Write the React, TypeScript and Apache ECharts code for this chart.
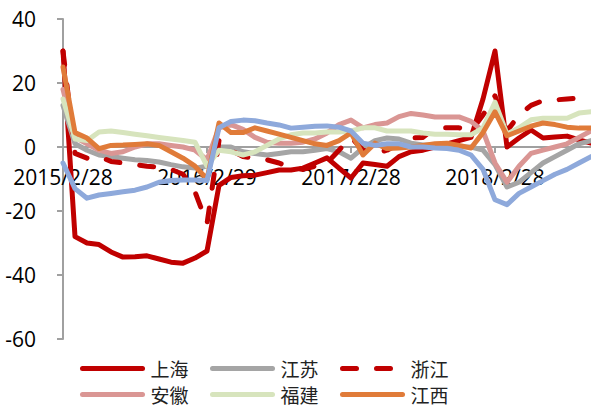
import React, { useEffect, useRef } from "react";
import * as echarts from "echarts";

const categories = [
  "2015/2/28", "2015/3/31", "2015/4/30", "2015/5/31", "2015/6/30", "2015/7/31", "2015/8/31", "2015/9/30",
  "2015/10/31", "2015/11/30", "2015/12/31", "2016/1/31", "2016/2/29", "2016/3/31", "2016/4/30", "2016/5/31",
  "2016/6/30", "2016/7/31", "2016/8/31", "2016/9/30", "2016/10/31", "2016/11/30", "2016/12/31", "2017/1/31",
  "2017/2/28", "2017/3/31", "2017/4/30", "2017/5/31", "2017/6/30", "2017/7/31", "2017/8/31", "2017/9/30",
  "2017/10/31", "2017/11/30", "2017/12/31", "2018/1/31", "2018/2/28", "2018/3/31", "2018/4/30", "2018/5/31",
  "2018/6/30", "2018/7/31", "2018/8/31", "2018/9/30", "2018/10/31",
];

const shanghai = [30, -28, -30, -30.5, -32.8, -34.4, -34.3, -34, -35, -36, -36.3, -34.7, -32.5, -12, -9.5, -9, -8.8, -8, -7.2, -7.2, -6.6, -5, -3.4, -6.6, -9.7, -5, -5.5, -6, -3, -1.5, -1, 0, 1, 2, 3, 15, 30, 0, 2.8, 5.3, 2.8, 3.1, 3.4, 2.2, 1.2];
const jiangsu = [13, 1, -1, -2.5, -3, -3.5, -4, -4.2, -4.7, -5.5, -6.2, -6.6, -6, 0, 0, -1.5, -2, -2.5, -2, -1.5, -1.5, -1, -0.5, -1.5, -3.5, -0.3, 2, 2.8, 2.5, 1.2, 0.6, 0.6, 0.3, 0, 0, -1, -5.5, -12.5, -11, -8, -5, -3, -1, 1, 2];
const zhejiang = [30, -2, -3.5, -3, -4.5, -5, -5.5, -6, -6.3, -7, -8.5, -14, -24, 2, -1, -3, -3.5, -4, -5, -6.5, -7, -6, -5, -1, 3, -1, -2, -1, 1, 2.8, 3, 6, 6, 6, 5, 10, 16, 5, 10, 13, 14.5, 14.7, 15, 15.3, 15.6];
const anhui = [18, 3, 1, -1, -2, -1.5, 0, 1, 1, 0.5, 0, -1, -4, 6, 7, 5.5, 3, 1.5, 1.2, 1.2, 1.5, 2.5, 4.4, 7, 8.4, 6, 7, 7.5, 9.5, 10.5, 10, 9.4, 9.4, 9.4, 8, 5, -5, -11, -6, -2, -1, 0, 1, 3, 5];
const fujian = [15, 2.5, 2, 4.7, 5, 4.5, 4, 3.5, 3, 2.5, 2, 1.5, -6, -1, -1.5, -2.5, -1.5, 0.5, 2.5, 3.8, 4.4, 4.4, 4.7, 4.7, 5, 6, 6, 5, 5, 5, 4.4, 4, 4, 3.8, 3.8, 6, 14, 4, 6, 8.5, 9, 9, 9, 10.6, 11];
const jiangxi = [25, 4.5, 2.8, -0.5, 0.5, 0.6, 0.8, 1, 0.5, -1.5, -3.5, -6, -10, 7.5, 4.5, 4.5, 6, 5, 4, 3, 2, 1, 0.5, 2, 4.4, -2.5, 1.2, -0.5, -0.3, 0, 0.5, 1, 1.2, 0.5, -0.3, 4.5, 11, 3.5, 5, 6.5, 7.5, 7, 6.2, 5.9, 5.9];
const other = [-5, -13, -16, -15, -14.5, -14, -13.5, -12.5, -11, -10.5, -10.3, -10.3, -10.5, 6, 8, 8.4, 8.2, 7.5, 6.9, 5.9, 6.2, 6.5, 6.6, 6.2, 5, 1.2, 0.5, 1, 1, 0, 0, -0.3, -0.5, -1, -2.5, -7, -16.5, -18, -14.5, -12.5, -10.5, -8.5, -7, -5, -3];

const yTicks = { min: -60, max: 40, interval: 20 };

const seriesDefs = [
  { name: "上海", data: shanghai, color: "#C00000", dashed: false },
  { name: "江苏", data: jiangsu, color: "#A5A5A5", dashed: false },
  { name: "浙江", data: zhejiang, color: "#C00000", dashed: true },
  { name: "安徽", data: anhui, color: "#DA9694", dashed: false },
  { name: "福建", data: fujian, color: "#D7E4BD", dashed: false },
  { name: "江西", data: jiangxi, color: "#E07B39", dashed: false },
  { name: "其他", data: other, color: "#8EA9DB", dashed: false },
];

const legendPos = [
  { name: "上海", left: 80, top: 359 },
  { name: "江苏", left: 210, top: 359 },
  { name: "浙江", left: 340, top: 359 },
  { name: "安徽", left: 80, top: 385 },
  { name: "福建", left: 210, top: 385 },
  { name: "江西", left: 340, top: 385 },
];

export default function App() {
  const ref = useRef<HTMLDivElement>(null);
  useEffect(() => {
    if (!ref.current) return;
    const chart = echarts.init(ref.current, null, { renderer: "svg" });
    const dash = [14, 20];
    const gridTop = 19;
    const gridHeight = 320;
    const zeroOffset = -(gridHeight * (0 - yTicks.min)) / (yTicks.max - yTicks.min);
    chart.setOption({
      animation: false,
      backgroundColor: "#ffffff",
      grid: { left: 63, top: gridTop, width: 528, height: gridHeight, containLabel: false },
      legend: legendPos.map((l) => ({
        data: [l.name],
        left: l.left,
        top: l.top,
        padding: 0,
        itemWidth: 60,
        itemHeight: 14,
        selectedMode: false,
        itemStyle: { color: "transparent", borderColor: "transparent", borderWidth: 0, opacity: 0 },
        lineStyle: { width: 5, cap: "round" },
        textStyle: {
          fontFamily: "Noto Sans CJK SC",
          fontSize: 19,
          lineHeight: 19,
          color: "#222",
          padding: [0, 0, 0, 3],
        },
      })),
      xAxis: {
        type: "category",
        data: categories,
        boundaryGap: false,
        offset: zeroOffset,
        axisLine: { onZero: false, lineStyle: { color: "#A0A0A0", width: 2 } },
        axisTick: { show: true, interval: 11, length: 6, lineStyle: { color: "#A0A0A0", width: 2 } },
        axisLabel: {
          interval: 11,
          margin: 19,
          fontFamily: "Open Sans",
          fontSize: 21,
          color: "#000",
        },
        splitLine: { show: false },
      },
      yAxis: {
        type: "value",
        min: yTicks.min,
        max: yTicks.max,
        interval: yTicks.interval,
        axisLine: { show: true, lineStyle: { color: "#A0A0A0", width: 2 } },
        axisTick: { show: true, length: 6, lineStyle: { color: "#A0A0A0", width: 2 } },
        axisLabel: { margin: 27, fontFamily: "Open Sans", fontSize: 21, color: "#000" },
        splitLine: { show: false },
      },
      series: seriesDefs.map((s) => ({
        name: s.name,
        type: "line",
        data: s.data,
        symbol: "none",
        showSymbol: false,
        color: s.color,
        lineStyle: {
          color: s.color,
          width: 5,
          type: s.dashed ? dash : "solid",
          cap: "round",
          join: "round",
        },
        emphasis: { disabled: true },
      })),
    });
    return () => chart.dispose();
  }, []);
  return (
    <div
      ref={ref}
      style={{ position: "absolute", left: 0, top: 0, width: 591, height: 407 }}
    />
  );
}
